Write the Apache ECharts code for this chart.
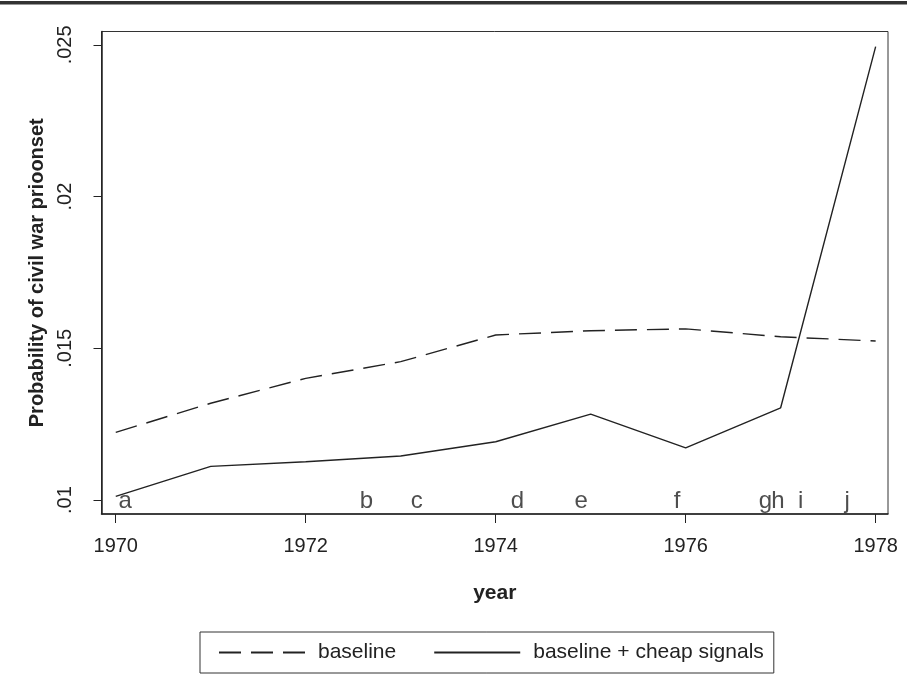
<!DOCTYPE html>
<html>
<head>
<meta charset="utf-8">
<script src="https://cdn.jsdelivr.net/npm/echarts@6/dist/echarts.min.js"></script>
<style>
html,body{margin:0;padding:0;background:#fff;}
#chart{width:907px;height:675px;}
</style>
</head>
<body>
<div id="chart"></div>
<script>
var years = [1970, 1971, 1972, 1973, 1974, 1975, 1976, 1977, 1978];
var baseline = [0.01223, 0.01319, 0.01401, 0.01456, 0.01544, 0.01558, 0.01564, 0.01538, 0.01524];
var cheapSignals = [0.01012, 0.01111, 0.01126, 0.01145, 0.01192, 0.01283, 0.01172, 0.01304, 0.02494];
var eventLetters = ['a', 'b', 'c', 'd', 'e', 'f', 'g', 'h', 'i', 'j'];
var eventYears = [1970.10, 1972.64, 1973.17, 1974.23, 1974.90, 1975.91, 1976.84, 1976.97, 1977.21, 1977.70];
var xTicks = [1970, 1972, 1974, 1976, 1978];
var yTicks = [0.01, 0.015, 0.02, 0.025];
var yTickLabels = ['.01', '.015', '.02', '.025'];
var seriesNames = ['baseline', 'baseline + cheap signals'];

var FONT = '"Liberation Sans", Arial, Helvetica, sans-serif';
var INK = '#222';

function pairs(xs, ys) { return xs.map(function (x, i) { return [x, ys[i]]; }); }

var chart = echarts.init(document.getElementById('chart'), null, {renderer: 'canvas'});
chart.setOption({
  animation: false,
  backgroundColor: '#fff',
  textStyle: {fontFamily: FONT, color: INK},
  graphic: [{
    type: 'rect', left: 0, top: 1,
    shape: {width: 907, height: 3.5},
    style: {fill: '#333'}
  }],
  grid: {
    left: 101.5, right: 19, top: 31.5, bottom: 161,
    show: true, borderColor: '#333', borderWidth: 1, backgroundColor: 'transparent',
    containLabel: false
  },
  legend: {
    data: seriesNames,
    left: 200, top: 632,
    orient: 'horizontal',
    borderColor: '#333', borderWidth: 1,
    padding: [10, 10, 10, 18],
    itemWidth: 86, itemHeight: 14, itemGap: 37,
    selectedMode: false,
    itemStyle: {opacity: 0},
    textStyle: {fontFamily: FONT, fontSize: 21, color: INK, padding: [0, 0, 0, 8]}
  },
  xAxis: {
    type: 'value',
    min: 1969.85, max: 1978.13,
    name: 'year', nameLocation: 'middle', nameGap: 69,
    nameTextStyle: {fontFamily: FONT, fontSize: 21, fontWeight: 'bold', color: INK},
    axisLine: {show: true, onZero: false, lineStyle: {color: INK, width: 1.5}},
    axisTick: {show: true, length: 9, customValues: xTicks, lineStyle: {color: INK, width: 1}},
    axisLabel: {customValues: xTicks, margin: 22, fontFamily: FONT, fontSize: 20, color: INK,
      formatter: function (v) { return String(v); }},
    splitLine: {show: false}
  },
  yAxis: {
    type: 'value',
    min: 0.00954, max: 0.02544,
    name: 'Probability of civil war prioonset', nameLocation: 'middle', nameGap: 50, nameRotate: 90,
    nameTextStyle: {fontFamily: FONT, fontSize: 20, fontWeight: 'bold', color: INK},
    axisLine: {show: true, onZero: false, lineStyle: {color: INK, width: 1.5}},
    axisTick: {show: true, length: 8, customValues: yTicks, lineStyle: {color: INK, width: 1}},
    axisLabel: {customValues: yTicks, rotate: 90, margin: 26, fontFamily: FONT, fontSize: 20, color: INK,
      formatter: function (v) {
        var i = yTicks.findIndex(function (t) { return Math.abs(t - v) < 1e-9; });
        return i >= 0 ? yTickLabels[i] : '';
      }},
    splitLine: {show: false}
  },
  series: [{
    name: seriesNames[0],
    type: 'line',
    data: pairs(years, baseline),
    symbol: 'none',
    lineStyle: {color: INK, width: 1.4, type: [22, 10]},
    itemStyle: {color: INK}
  }, {
    name: seriesNames[1],
    type: 'line',
    data: pairs(years, cheapSignals),
    symbol: 'none',
    lineStyle: {color: INK, width: 1.4, type: 'solid'},
    itemStyle: {color: INK}
  }, {
    name: 'events',
    type: 'scatter',
    clip: false,
    symbolSize: 0,
    data: eventYears.map(function (y, i) { return {value: [y, 0.00957], name: eventLetters[i]}; }),
    label: {show: true, position: 'top', distance: 0, formatter: '{b}',
      fontFamily: FONT, fontSize: 24, color: INK},
    silent: true
  }]
});
</script>
</body>
</html>
